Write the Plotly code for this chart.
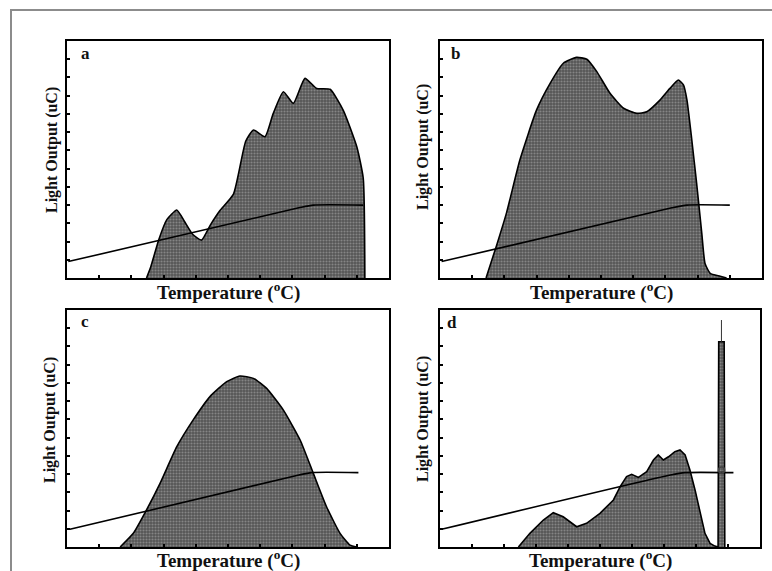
import plotly.graph_objects as go

# ---------------- data (arbitrary units: temperature 0-100, light 0-13) ----------------
a_temp = [24.7, 26.0, 28.5, 31.0, 34.1, 36.5, 39.0, 41.8, 44.5, 47.5, 51.7, 55.5, 57.9, 61.5, 64.0, 67.2, 70.3, 73.9, 77.5, 81.7, 85.8, 90.0, 92.0, 92.5]
a_light = [0.0, 0.6, 2.1, 3.2, 3.73, 3.1, 2.4, 2.08, 2.9, 3.7, 4.6, 7.5, 8.12, 7.75, 9.0, 10.22, 9.58, 10.95, 10.4, 10.35, 9.2, 7.2, 5.47, 0.0]
a_ramp_temp = [0.4, 72.0, 76.5, 92.0]
a_ramp_light = [0.9, 3.85, 4.0, 4.0]

b_temp = [14.3, 17.6, 20.7, 24.8, 30.0, 34.2, 38.3, 42.4, 45.6, 48.7, 52.8, 57.0, 61.1, 64.2, 68.3, 71.4, 74.0, 75.6, 76.7, 78.2, 79.7, 81.3, 82.3, 83.9, 87.0, 89.0]
b_light = [0.0, 1.8, 3.6, 6.47, 9.22, 10.68, 11.78, 12.1, 12.0, 11.32, 10.13, 9.31, 9.03, 9.12, 9.76, 10.4, 10.86, 10.59, 9.76, 7.57, 5.19, 2.45, 0.8, 0.26, 0.1, 0.0]
b_ramp_temp = [0.5, 72.0, 76.7, 90.0]
b_ramp_light = [0.9, 3.85, 4.0, 4.0]

c_temp = [16.5, 20.6, 24.7, 28.9, 34.1, 39.2, 44.4, 49.6, 53.7, 57.9, 62.0, 67.2, 72.4, 76.5, 80.6, 84.8, 87.9, 90.0]
c_light = [0.0, 0.75, 2.03, 3.49, 5.5, 6.97, 8.25, 9.07, 9.38, 9.25, 8.7, 7.51, 5.87, 4.04, 2.21, 0.75, 0.1, 0.0]
c_ramp_temp = [0.9, 72.0, 76.0, 90.5]
c_ramp_light = [0.97, 3.95, 4.08, 4.08]

d_temp = [24.5, 28.1, 32.3, 35.4, 38.5, 42.7, 45.8, 50.0, 54.2, 56.3, 58.3, 59.9, 62.0, 64.6, 66.7, 68.2, 69.8, 71.4, 73.4, 75.0, 76.6, 78.1, 79.7, 81.3, 82.8, 84.4, 85.9, 86.9, 87.1, 88.8, 89.0]
d_light = [0.0, 0.75, 1.48, 1.88, 1.66, 1.11, 1.3, 1.85, 2.58, 3.31, 3.86, 3.99, 3.82, 4.13, 4.77, 5.05, 4.77, 4.95, 5.23, 5.32, 5.05, 4.22, 3.13, 1.85, 0.75, 0.2, 0.05, 0.0, 11.26, 11.26, 0.0]
d_ramp_temp = [0.5, 72.0, 76.6, 91.7]
d_ramp_light = [0.97, 3.95, 4.08, 4.08]
d_spike_temp = [87.95, 87.95]
d_spike_light = [11.26, 12.45]
d_marker_temp = [88.0]
d_marker_light = [4.22]

panel_labels = ["a", "b", "c", "d"]
x_title = "Temperature (<sup>o</sup>C)"
y_title = "Light Output (uC)"

# ---------------- layout geometry (pixels of a 772x571 page) ----------------
W, H = 772, 571
boxes = {  # left, top, right, bottom
    "a": (67, 41, 389, 278),
    "b": (440, 41, 762, 278),
    "c": (67, 310, 389, 547),
    "d": (440, 310, 760, 547),
}
ytitle_pos = {"a": (52, 150), "b": (423, 147), "c": (50, 420), "d": (423, 419)}
xtitle_y = {"a": 291, "b": 291, "c": 559, "d": 559}
label_pos = {"a": (85, 53), "b": (455, 53), "c": (85, 321), "d": (452, 322)}
spline_panels = {"a", "b", "c"}

def px(x):
    return x / W

def py(y):
    return 1 - y / H

fig = go.Figure()

curves = {
    "a": (a_temp, a_light, a_ramp_temp, a_ramp_light),
    "b": (b_temp, b_light, b_ramp_temp, b_ramp_light),
    "c": (c_temp, c_light, c_ramp_temp, c_ramp_light),
    "d": (d_temp, d_light, d_ramp_temp, d_ramp_light),
}

font_family = "Liberation Serif"
annotations = []
layout_axes = {}
for i, key in enumerate(panel_labels):
    n = i + 1
    xa = "x" if n == 1 else f"x{n}"
    ya = "y" if n == 1 else f"y{n}"
    l, t, r, b = boxes[key]
    tx, ty, rx, ry = curves[key]
    if key in spline_panels:
        cline = dict(color="black", width=1.6, shape="spline", smoothing=0.5)
    else:
        cline = dict(color="black", width=1.6, shape="linear")
    fig.add_trace(go.Scatter(
        x=tx, y=ty, xaxis=xa, yaxis=ya, mode="lines",
        line=cline,
        fill="tozeroy", fillcolor="#6e6e6e",
        fillpattern=dict(shape=".", bgcolor="#555555", fgcolor="#b5b5b5", size=3, solidity=0.4),
        hoverinfo="skip", showlegend=False,
    ))
    fig.add_trace(go.Scatter(
        x=rx, y=ry, xaxis=xa, yaxis=ya, mode="lines",
        line=dict(color="black", width=1.6, shape="spline", smoothing=0.6),
        hoverinfo="skip", showlegend=False,
    ))
    if key == "d":
        fig.add_trace(go.Scatter(
            x=d_spike_temp, y=d_spike_light, xaxis=xa, yaxis=ya, mode="lines",
            line=dict(color="#333333", width=1), hoverinfo="skip", showlegend=False,
        ))
        fig.add_trace(go.Scatter(
            x=d_marker_temp, y=d_marker_light, xaxis=xa, yaxis=ya, mode="markers",
            marker=dict(symbol="circle-open", size=6, color="#444444", line=dict(width=1.5)),
            hoverinfo="skip", showlegend=False,
        ))
    common = dict(showgrid=False, zeroline=False, showline=True, linecolor="black",
                  linewidth=2.4, mirror=True, ticks="inside", ticklen=3, tickwidth=1.5,
                  tickcolor="black", showticklabels=False, fixedrange=True)
    layout_axes["xaxis" if n == 1 else f"xaxis{n}"] = dict(
        domain=[px(l), px(r)], range=[0, 100], dtick=10, tick0=0,
        anchor=ya, **common)
    layout_axes["yaxis" if n == 1 else f"yaxis{n}"] = dict(
        domain=[py(b), py(t)], range=[0, 13], dtick=1, tick0=0,
        anchor=xa, **common)
    # titles and panel label
    annotations.append(dict(
        x=px((l + r) / 2), y=py(xtitle_y[key]), xref="paper", yref="paper",
        text=f"<b>{x_title}</b>", showarrow=False, xanchor="center", yanchor="middle",
        font=dict(family=font_family, size=19, color="#111111")))
    yx, yy = ytitle_pos[key]
    annotations.append(dict(
        x=px(yx), y=py(yy), xref="paper", yref="paper", textangle=-90,
        text=f"<b>{y_title}</b>", showarrow=False, xanchor="center", yanchor="middle",
        font=dict(family=font_family, size=16, color="#111111")))
    lx, ly = label_pos[key]
    annotations.append(dict(
        x=px(lx), y=py(ly), xref="paper", yref="paper",
        text=f"<b>{key}</b>", showarrow=False, xanchor="center", yanchor="middle",
        font=dict(family=font_family, size=17, color="#111111")))

fig.update_layout(
    width=W, height=H,
    margin=dict(l=0, r=0, t=0, b=0),
    paper_bgcolor="white", plot_bgcolor="white",
    annotations=annotations,
    shapes=[dict(type="rect", xref="paper", yref="paper",
                 x0=px(11), y0=py(10), x1=1.05, y1=-0.05,
                 line=dict(color="#8c8c8c", width=2))],
    **layout_axes,
)

fig.write_html(
    "out.html",
    config={"displayModeBar": False},
    post_script="document.body.style.margin='0px';document.body.style.overflow='hidden';",
)
